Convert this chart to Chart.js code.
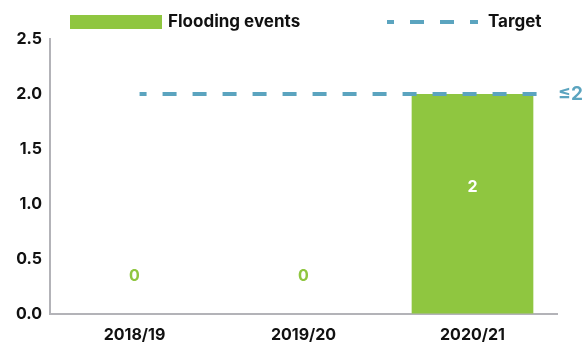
<!DOCTYPE html>
<html>
<head>
<meta charset="utf-8">
<script src="https://cdn.jsdelivr.net/npm/chart.js@4"></script>
<style>
  html, body { margin: 0; padding: 0; background: #fff; }
  #wrap { width: 584px; height: 345px; }
</style>
</head>
<body>
<div id="wrap"><canvas id="chartFlood"></canvas></div>
<script>
// values
const years = ['2018/19', '2019/20', '2020/21'];
const floodingEvents = [0, 0, 2];
const targetValue = 2;
const targetLabel = '≤2';
const yTicks = [0, 0.5, 1, 1.5, 2, 2.5];

const GREEN = '#8fc640';
const BLUE = '#5ba4bf';
const AXIS = '#b3b3b8';
const FONT = 'Inter, "DejaVu Sans", sans-serif';

// target line runs across the categories on a hidden linear axis
const targetLine = [{ x: 0.03, y: targetValue }, { x: 2.46, y: targetValue }];

// little legend drawn on the canvas, above the plot
const legendPlugin = {
  id: 'topLegend',
  afterDraw(chart) {
    const ctx = chart.ctx;
    ctx.save();
    ctx.font = '700 17px ' + FONT;
    ctx.textBaseline = 'middle';
    const y = 22;
    // bars
    ctx.fillStyle = GREEN;
    ctx.fillRect(70, y - 7, 92, 14);
    ctx.fillStyle = '#111';
    ctx.fillText(chart.data.datasets[0].label, 168, y);
    // target
    ctx.strokeStyle = BLUE;
    ctx.lineWidth = 4;
    ctx.setLineDash([14, 16]);
    ctx.lineDashOffset = 7;
    ctx.beginPath();
    ctx.moveTo(387, y);
    ctx.lineTo(478, y);
    ctx.stroke();
    ctx.setLineDash([]);
    ctx.fillText(chart.data.datasets[1].label, 488, y);
    ctx.restore();
  }
};

// value labels on the bars and the target tag at the right end
const labelPlugin = {
  id: 'valueLabels',
  afterDatasetsDraw(chart) {
    const ctx = chart.ctx;
    const meta = chart.getDatasetMeta(0);
    const yScale = chart.scales.y;
    ctx.save();
    ctx.font = '700 16px ' + FONT;
    ctx.textAlign = 'center';
    ctx.textBaseline = 'middle';
    meta.data.forEach((bar, i) => {
      const v = floodingEvents[i];
      if (v === 0) {
        ctx.fillStyle = GREEN;
        ctx.fillText(String(v), bar.x, bar.base - 38);
      } else {
        ctx.fillStyle = '#fff';
        ctx.fillText(String(v), bar.x, (bar.y + bar.base) / 2 - 17);
      }
    });
    ctx.fillStyle = BLUE;
    ctx.font = '700 19px ' + FONT;
    ctx.textAlign = 'left';
    ctx.fillText(targetLabel, chart.chartArea.right + 1, yScale.getPixelForValue(targetValue));
    ctx.restore();
  }
};

new Chart(document.getElementById('chartFlood'), {
  type: 'bar',
  data: {
    labels: years,
    datasets: [
      {
        label: 'Flooding events',
        data: floodingEvents,
        backgroundColor: GREEN,
        borderWidth: 0,
        grouped: false,
        barPercentage: 0.72,
        categoryPercentage: 1,
        order: 2
      },
      {
        type: 'line',
        label: 'Target',
        data: targetLine,
        xAxisID: 'x2',
        borderColor: BLUE,
        borderWidth: 4,
        borderDash: [14, 16],
        borderDashOffset: 7,
        pointRadius: 0,
        fill: false,
        order: 1
      }
    ]
  },
  options: {
    responsive: true,
    maintainAspectRatio: false,
    animation: false,
    layout: { padding: { top: 39, right: 27, left: 0, bottom: 0 } },
    plugins: {
      legend: { display: false },
      tooltip: { enabled: false }
    },
    scales: {
      x: {
        type: 'category',
        afterFit(scale) { scale.height = 31; },
        grid: { color: 'transparent', drawTicks: false },
        border: { display: true, color: AXIS, width: 2 },
        ticks: {
          color: '#111',
          padding: 12,
          font: { family: FONT, size: 16, weight: '700' }
        }
      },
      x2: {
        type: 'linear',
        display: false,
        offset: false,
        min: -0.5,
        max: years.length - 0.5
      },
      y: {
        min: 0,
        max: 2.5,
        afterFit(scale) { scale.width = 50; },
        afterBuildTicks(scale) { scale.ticks = yTicks.map(v => ({ value: v })); },
        grid: { color: 'transparent', drawTicks: false },
        border: { display: true, color: AXIS, width: 2 },
        ticks: {
          color: '#111',
          padding: 8,
          font: { family: FONT, size: 16, weight: '700' },
          callback: v => Number(v).toFixed(1)
        }
      }
    }
  },
  plugins: [legendPlugin, labelPlugin]
});
</script>
</body>
</html>
